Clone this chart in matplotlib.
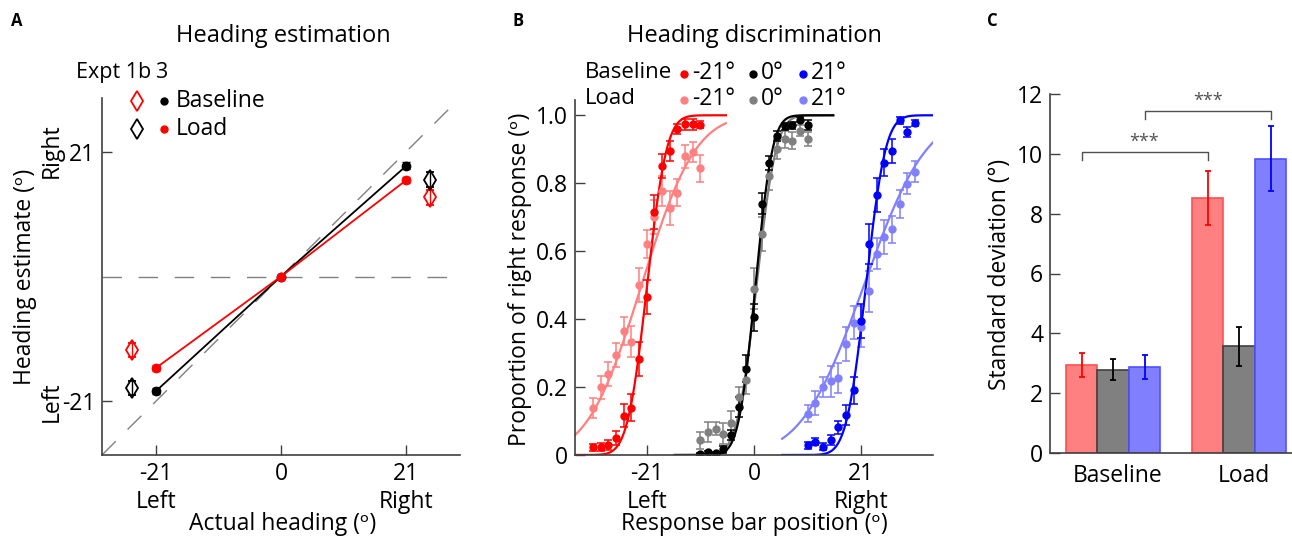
import math

import matplotlib

matplotlib.use("Agg")
import matplotlib.pyplot as plt
import numpy as np
from matplotlib.lines import Line2D

plt.rcParams["font.family"] = ["Open Sans", "DejaVu Sans"]
plt.rcParams["font.size"] = 16.5

W, H = 1292, 538
AXIS_GREY = "#404040"
DASH_GREY = "#808080"
RED, PINK = "#FF0000", "#FF8080"
BLACK, GREY = "#000000", "#808080"
BLUE, LIGHT_BLUE = "#0000FF", "#8080FF"

# ---- panel A: heading estimation ----
headings = [-21, 0, 21]
est_baseline = [-19.3, 0.0, 18.6]
est_baseline_err = [0.5, 0.3, 0.6]
est_load = [-15.4, 0.0, 16.2]
est_load_err = [0.5, 0.3, 0.5]

# Expt 3 summary points, drawn beside the Expt 1b data
expt3_x = [-25, 25]
expt3_baseline = [-12.3, 13.3]
expt3_baseline_err = [1.2, 1.2]
expt3_load = [-18.7, 16.3]
expt3_load_err = [1.2, 1.2]

# ---- panel B: heading discrimination ----
bar_offsets = [-10.5, -9, -7.5, -6, -4.5, -3, -1.5, 0, 1.5, 3, 4.5, 6, 7.5, 9, 10.5]
centres = [-21, 0, 21]

p_base_left = [0.023, 0.023, 0.03, 0.05, 0.116, 0.139, 0.283, 0.465,
               0.715, 0.851, 0.894, 0.96, 0.973, 0.973, 0.972]
p_base_left_err = [0.01, 0.012, 0.015, 0.02, 0.035, 0.04, 0.05, 0.05,
                   0.05, 0.035, 0.03, 0.015, 0.015, 0.015, 0.01]
p_load_left = [0.139, 0.199, 0.239, 0.295, 0.365, 0.334, 0.50, 0.621,
               0.70, 0.777, 0.727, 0.772, 0.879, 0.892, 0.844]
p_load_left_err = [0.03, 0.035, 0.035, 0.035, 0.04, 0.045, 0.05, 0.04,
                   0.05, 0.045, 0.05, 0.04, 0.035, 0.03, 0.04]

p_base_mid = [0.004, 0.008, 0.005, 0.017, 0.059, 0.141, 0.254, 0.405,
              0.74, 0.86, 0.94, 0.968, 0.97, 0.987, 0.972]
p_base_mid_err = [0.003, 0.004, 0.005, 0.01, 0.015, 0.03, 0.04, 0.04,
                  0.03, 0.02, 0.015, 0.01, 0.01, 0.008, 0.015]
p_load_mid = [0.044, 0.068, 0.078, 0.063, 0.095, 0.171, 0.22, 0.49,
              0.65, 0.82, 0.90, 0.93, 0.925, 0.955, 0.93]
p_load_mid_err = [0.025, 0.03, 0.02, 0.03, 0.035, 0.03, 0.04, 0.06,
                  0.05, 0.04, 0.03, 0.025, 0.025, 0.015, 0.02]

p_base_right = [0.029, 0.039, 0.024, 0.044, 0.081, 0.117, 0.19, 0.395,
                0.621, 0.766, 0.861, 0.894, 0.985, 0.95, 0.977]
p_base_right_err = [0.01, 0.01, 0.01, 0.015, 0.02, 0.03, 0.04, 0.05,
                    0.06, 0.05, 0.04, 0.035, 0.01, 0.015, 0.01]
p_load_right = [0.122, 0.154, 0.20, 0.217, 0.227, 0.327, 0.39, 0.378,
                0.482, 0.593, 0.643, 0.665, 0.739, 0.799, 0.834]
p_load_right_err = [0.025, 0.035, 0.03, 0.045, 0.045, 0.05, 0.05, 0.06,
                    0.06, 0.045, 0.05, 0.04, 0.04, 0.03, 0.03]

# cumulative-Gaussian fits (mean, sd) per condition
fit_base_mu = [-20.9, 0.3, 21.9]
fit_base_sd = [3.0, 2.6, 3.0]
fit_load_mu = [-22.0, 0.5, 21.5]
fit_load_sd = [8.3, 3.0, 9.6]
fit_halfwidth = 15.5

# ---- panel C: standard deviation ----
sd_groups = ["Baseline", "Load"]
sd_left = [2.95, 8.53]
sd_left_err = [0.40, 0.91]
sd_mid = [2.78, 3.56]
sd_mid_err = [0.35, 0.65]
sd_right = [2.88, 9.84]
sd_right_err = [0.40, 1.08]


def box(left, top, right, bottom):
    return [left / W, 1 - bottom / H, (right - left) / W, (bottom - top) / H]


def fig_text(x, y, s, **kw):
    kw.setdefault("ha", "center")
    kw.setdefault("va", "center")
    fig.text(x / W, 1 - y / H, s, **kw)


def fig_marker(x, y, **kw):
    fig.add_artist(Line2D([x / W], [1 - y / H], transform=fig.transFigure,
                          linestyle="none", **kw))


def style_axes(ax):
    for side in ("top", "right"):
        ax.spines[side].set_visible(False)
    for side in ("left", "bottom"):
        ax.spines[side].set_color(AXIS_GREY)
        ax.spines[side].set_linewidth(1.2)
    ax.tick_params(direction="in", length=7, width=1, color=AXIS_GREY,
                   labelsize=16.5, pad=5)


def norm_cdf(x, mu, sd):
    erf = np.vectorize(math.erf)
    return 0.5 * (1 + erf((x - mu) / (sd * math.sqrt(2))))


fig = plt.figure(figsize=(W / 100, H / 100), dpi=100)

# ------------------------------------------------------------------ A
axA = fig.add_axes(box(102, 98, 460, 455))
style_axes(axA)
axA.set_xlim(-30, 30)
axA.set_ylim(-30, 30)
axA.axline((0, 0), slope=1, color=DASH_GREY, lw=1, dashes=(14, 12))
axA.axhline(0, color=DASH_GREY, lw=1, dashes=(14, 12))

axA.errorbar(headings, est_baseline, yerr=est_baseline_err, color=BLACK,
             marker="o", ms=6, lw=1.3, capsize=3, elinewidth=1)
axA.errorbar(headings, est_load, yerr=est_load_err, color=RED,
             marker="o", ms=6, lw=1.3, capsize=3, elinewidth=1)
axA.errorbar(expt3_x, expt3_baseline, yerr=expt3_baseline_err, color=RED,
             linestyle="none", marker="d", ms=10, mfc="none", mew=1.3,
             capsize=3, elinewidth=1)
axA.errorbar(expt3_x, expt3_load, yerr=expt3_load_err, color=BLACK,
             linestyle="none", marker="d", ms=10, mfc="none", mew=1.3,
             capsize=3, elinewidth=1)

axA.set_xticks(headings)
axA.set_xticklabels(["-21\nLeft", "0", "21\nRight"], va="top", linespacing=1.2)
axA.set_yticks([-21, 21])
axA.set_yticklabels(["-21", "21"])

fig_text(283, 36, "Heading estimation", fontsize=17)
fig_text(283, 524, "Actual heading (ᵒ)")
fig_text(25, 277, "Heading estimate (ᵒ)", rotation=90)
fig_text(52, 151, "Right", rotation=90)
fig_text(52, 402, "Left", rotation=90)

fig_text(76, 73, "Expt 1b", ha="left", fontsize=15.5)
fig_text(161, 73, "3", fontsize=15.5)
fig_marker(137, 101, marker="d", ms=10, mfc="white", mec=RED, mew=1.3)
fig_marker(137, 129, marker="d", ms=10, mfc="white", mec=BLACK, mew=1.3)
fig_marker(164, 101, marker="o", ms=5, color=BLACK)
fig_marker(164, 129, marker="o", ms=5, color=RED)
fig_text(176, 101, "Baseline", ha="left")
fig_text(176, 129, "Load", ha="left")

# ------------------------------------------------------------------ B
axB = fig.add_axes(box(575, 100, 933, 455))
style_axes(axB)
axB.set_xlim(-35, 35)
axB.set_ylim(0, 1.045)

offs = np.array(bar_offsets)
series = [
    (p_load_left, p_load_left_err, PINK, 0, fit_load_mu, fit_load_sd),
    (p_base_left, p_base_left_err, RED, 0, fit_base_mu, fit_base_sd),
    (p_load_mid, p_load_mid_err, GREY, 1, fit_load_mu, fit_load_sd),
    (p_base_mid, p_base_mid_err, BLACK, 1, fit_base_mu, fit_base_sd),
    (p_load_right, p_load_right_err, LIGHT_BLUE, 2, fit_load_mu, fit_load_sd),
    (p_base_right, p_base_right_err, BLUE, 2, fit_base_mu, fit_base_sd),
]
for vals, errs, colour, k, mus, sds in series:
    c = centres[k]
    xs = np.linspace(c - fit_halfwidth, c + fit_halfwidth, 300)
    axB.plot(xs, norm_cdf(xs, mus[k], sds[k]), color=colour, lw=1.6)
    axB.errorbar(c + offs, vals, yerr=errs, color=colour, linestyle="none",
                 marker="o", ms=5, capsize=3, elinewidth=1.1, capthick=1.1)

axB.set_xticks(centres)
axB.set_xticklabels(["-21\nLeft", "0", "21\nRight"], va="top", linespacing=1.2)
axB.set_yticks([0, 0.2, 0.4, 0.6, 0.8, 1.0])
axB.set_yticklabels(["0", "0.2", "0.4", "0.6", "0.8", "1.0"])

fig_text(754, 36, "Heading discrimination", fontsize=17)
fig_text(754, 524, "Response bar position (ᵒ)")
fig_text(520, 279, "Proportion of right response (ᵒ)", rotation=90)

fig_text(585, 73, "Baseline", ha="left", fontsize=16)
fig_text(585, 99, "Load", ha="left", fontsize=16)
legend_cols = [(684, "-21°", RED, PINK), (753, "0°", BLACK, GREY),
               (803, "21°", BLUE, LIGHT_BLUE)]
for x, label, c_base, c_load in legend_cols:
    fig_marker(x, 74, marker="o", ms=5, color=c_base)
    fig_marker(x, 100, marker="o", ms=5, color=c_load)
    fig_text(x + 8, 73, label, ha="left")
    fig_text(x + 8, 99, label, ha="left")

# ------------------------------------------------------------------ C
axC = fig.add_axes(box(1050, 94, 1292, 453))
style_axes(axC)
axC.set_xlim(0.5, 2.42)
axC.set_ylim(0, 12)
groups = np.array([1.0, 2.0])
bw = 0.25
bar_sets = [
    (sd_left, sd_left_err, -bw, PINK, "#FF5050", RED),
    (sd_mid, sd_mid_err, 0.0, GREY, "#404040", BLACK),
    (sd_right, sd_right_err, bw, LIGHT_BLUE, "#5050FF", BLUE),
]
for vals, errs, shift, face, edge, ecol in bar_sets:
    axC.bar(groups + shift, vals, width=bw, color=face, edgecolor=edge,
            linewidth=1.2)
    axC.errorbar(groups + shift, vals, yerr=errs, color=ecol,
                 linestyle="none", capsize=2.5, elinewidth=1.3, capthick=1.3)

axC.set_xticks(groups + 0.04)
axC.set_xticklabels(sd_groups)
axC.tick_params(axis="x", length=0, pad=8)
axC.set_yticks([0, 2, 4, 6, 8, 10, 12])


def bracket(x0, x1, y, drop, label):
    axC.plot([x0, x0, x1, x1], [y - drop, y, y, y - drop],
             color="#505050", lw=1)
    axC.text((x0 + x1) / 2, y + 0.05, label, ha="center", va="bottom",
             fontsize=13, color="#505050")


bracket(groups[0] - bw, groups[1] - bw, 10.05, 0.25, "***")
bracket(groups[0] + bw, groups[1] + bw, 11.43, 0.25, "***")

fig_text(1000, 274, "Standard deviation (°)", rotation=90)

# panel letters
fig_text(17, 21, "A", fontsize=12, fontweight="bold")
fig_text(518, 21, "B", fontsize=12, fontweight="bold")
fig_text(992, 21, "C", fontsize=12, fontweight="bold")

fig.savefig("out.png", dpi=100)
